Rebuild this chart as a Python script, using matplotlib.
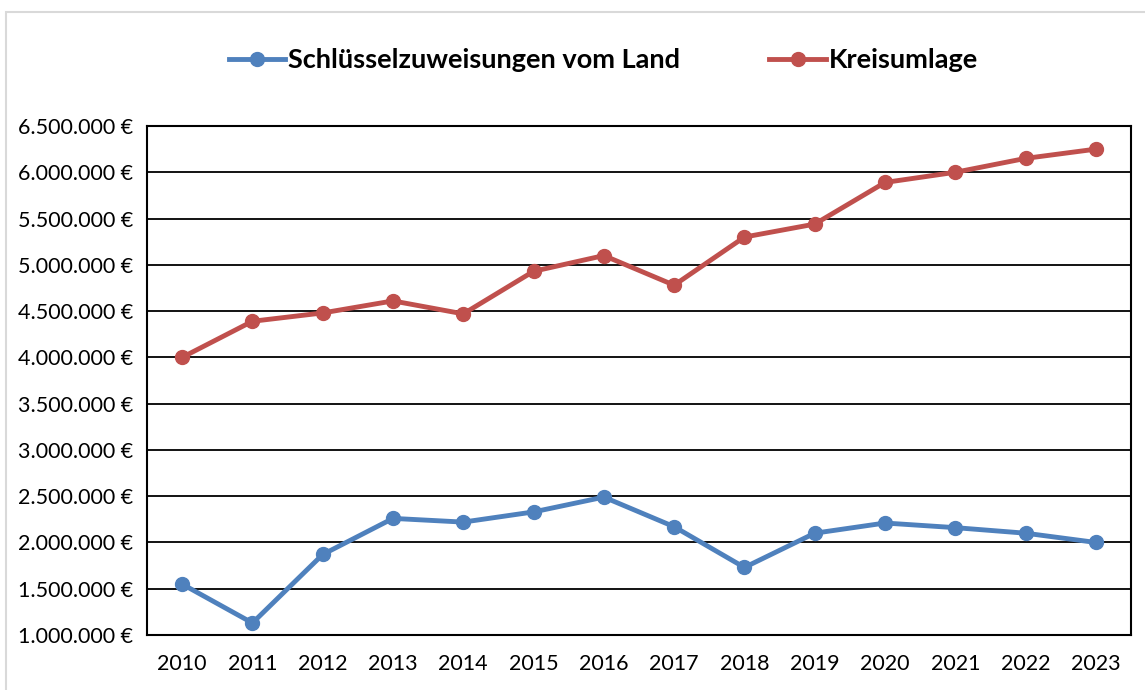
import matplotlib.pyplot as plt
from matplotlib.patches import Rectangle
from matplotlib.ticker import FuncFormatter

years = ['2010', '2011', '2012', '2013', '2014', '2015', '2016',
         '2017', '2018', '2019', '2020', '2021', '2022', '2023']
schluessel = [1550000, 1130000, 1870000, 2260000, 2220000, 2330000, 2490000,
              2170000, 1730000, 2100000, 2210000, 2160000, 2100000, 2000000]
kreisumlage = [4000000, 4390000, 4480000, 4610000, 4470000, 4930000, 5100000,
               4780000, 5300000, 5440000, 5890000, 6000000, 6150000, 6250000]
yticks = [1000000, 1500000, 2000000, 2500000, 3000000, 3500000,
          4000000, 4500000, 5000000, 5500000, 6000000, 6500000]

plt.rcParams['font.family'] = ['Lato', 'DejaVu Sans']

fig = plt.figure(figsize=(11.45, 6.9), dpi=100)
# light chart border
fig.patches.append(Rectangle((6 / 1145, -0.01), 1.1, (690 - 12) / 690 + 0.01,
                             transform=fig.transFigure, fill=False,
                             edgecolor='#d9d9d9', linewidth=1.5))

ax = fig.add_axes([147 / 1145, 55 / 690, (1131 - 147) / 1145, (635 - 126) / 690])
x = list(range(len(years)))
ax.plot(x, schluessel, color='#4F81BD', linewidth=3.5, marker='o',
        markersize=10, label='Schlüsselzuweisungen vom Land', zorder=3)
ax.plot(x, kreisumlage, color='#C0504D', linewidth=3.5, marker='o',
        markersize=10, label='Kreisumlage', zorder=3)

ax.set_xlim(-0.5, len(years) - 0.5)
ax.set_ylim(1000000, 6500000)
ax.set_xticks(x)
ax.set_xticklabels(years)
ax.set_yticks(yticks)
ax.yaxis.set_major_formatter(FuncFormatter(
    lambda v, p: '{:,.0f} €'.format(v).replace(',', '.')))
ax.tick_params(length=0, labelsize=15.5, pad=10)
ax.tick_params(axis='x', pad=14)
ax.grid(axis='y', color='black', linewidth=1.3)
ax.set_axisbelow(True)
for s in ax.spines.values():
    s.set_color('black')
    s.set_linewidth(1.5)

fig.legend(loc='center', bbox_to_anchor=(0.527, 1 - 60 / 690), ncol=2,
           frameon=False, prop={'weight': 'bold', 'size': 19.5},
           handlelength=2.1, handletextpad=0.1, columnspacing=3.3)

fig.savefig('out.png', dpi=100)
